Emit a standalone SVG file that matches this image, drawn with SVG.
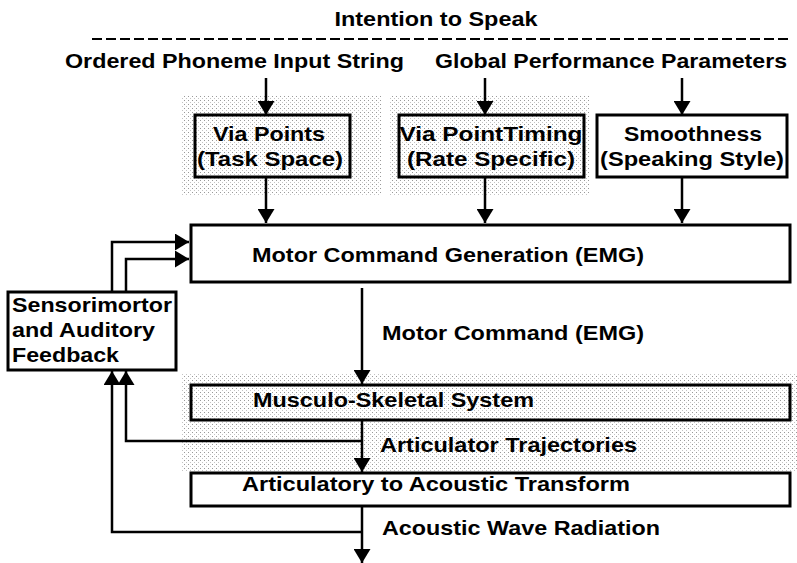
<svg xmlns="http://www.w3.org/2000/svg" width="797" height="563" viewBox="0 0 797 563">
<defs>
<style>
text{font-family:"Liberation Sans",Arial,Helvetica,sans-serif;font-weight:bold;font-size:21px;fill:#000}
.box{fill:#fff;stroke:#000;stroke-width:3}
.tex{fill:url(#dots)}
.ln{fill:none;stroke:#000;stroke-width:2.5}
.mid{text-anchor:middle}
</style>
<marker id="ah" viewBox="0 0 14 17" refX="14" refY="8.5" markerWidth="14" markerHeight="17" markerUnits="userSpaceOnUse" orient="auto">
<path d="M0,0 L14,8.5 L0,17 Z" fill="#000"/>
</marker>
<pattern id="dots" width="4" height="4" patternUnits="userSpaceOnUse">
<rect width="4" height="4" fill="#fff"/>
<rect width="1" height="1" fill="#999"/>
<rect x="2" y="2" width="1" height="1" fill="#c4c4c4"/>
</pattern>
</defs>
<rect width="797" height="563" fill="#fff"/>
<g id="texture">
<rect x="182" y="96" width="200" height="100" fill="url(#dots)"/>
<rect x="390" y="96" width="200" height="100" fill="url(#dots)"/>
<rect x="182" y="373" width="615" height="98" fill="url(#dots)"/>
</g>
<g id="header">
<text x="436" y="26" class="mid" textLength="203" lengthAdjust="spacingAndGlyphs">Intention to Speak</text>
<line x1="92" y1="39" x2="790" y2="39" stroke="#000" stroke-width="2" stroke-dasharray="10 4"/>
<text x="65" y="68" textLength="339" lengthAdjust="spacingAndGlyphs">Ordered Phoneme Input String</text>
<text x="435" y="68" textLength="352" lengthAdjust="spacingAndGlyphs">Global Performance Parameters</text>
</g>
<g id="connectors">
<line class="ln" x1="266" y1="78" x2="266" y2="115" marker-end="url(#ah)"/>
<line class="ln" x1="485" y1="78" x2="485" y2="115" marker-end="url(#ah)"/>
<line class="ln" x1="682" y1="78" x2="682" y2="115" marker-end="url(#ah)"/>
<line class="ln" x1="266" y1="177" x2="266" y2="223" marker-end="url(#ah)"/>
<line class="ln" x1="485" y1="177" x2="485" y2="223" marker-end="url(#ah)"/>
<line class="ln" x1="682" y1="177" x2="682" y2="223" marker-end="url(#ah)"/>
<polyline class="ln" points="112,292 112,242 189,242" marker-end="url(#ah)"/>
<polyline class="ln" points="126,292 126,259 189,259" marker-end="url(#ah)"/>
<line class="ln" x1="362" y1="288" x2="362" y2="384" marker-end="url(#ah)"/>
<line class="ln" x1="362" y1="421" x2="362" y2="472" marker-end="url(#ah)"/>
<line class="ln" x1="362" y1="506" x2="362" y2="563" marker-end="url(#ah)"/>
<polyline class="ln" points="362,441 126,441 126,371" marker-end="url(#ah)"/>
<polyline class="ln" points="362,532 112,532 112,371" marker-end="url(#ah)"/>
</g>
<g id="via-points">
<rect class="box tex" x="195" y="115" width="155" height="62"/>
<text x="269" y="141" class="mid" textLength="112" lengthAdjust="spacingAndGlyphs">Via Points</text>
<text x="270" y="166" class="mid" textLength="146" lengthAdjust="spacingAndGlyphs">(Task Space)</text>
</g>
<g id="via-point-timing">
<rect class="box tex" x="399" y="115" width="185" height="62"/>
<text x="491" y="141" class="mid" textLength="183" lengthAdjust="spacingAndGlyphs">Via PointTiming</text>
<text x="491" y="166" class="mid" textLength="168" lengthAdjust="spacingAndGlyphs">(Rate Specific)</text>
</g>
<g id="smoothness">
<rect class="box" x="597" y="115" width="190" height="62"/>
<text x="693" y="141" class="mid" textLength="138" lengthAdjust="spacingAndGlyphs">Smoothness</text>
<text x="692" y="166" class="mid" textLength="184" lengthAdjust="spacingAndGlyphs">(Speaking Style)</text>
</g>
<g id="motor-command-generation">
<rect class="box" x="191" y="225" width="599" height="57"/>
<text x="252" y="262" textLength="392" lengthAdjust="spacingAndGlyphs">Motor Command Generation (EMG)</text>
</g>
<g id="feedback">
<rect class="box" x="8" y="292" width="168" height="78"/>
<text x="12" y="312" textLength="160" lengthAdjust="spacingAndGlyphs">Sensorimortor</text>
<text x="12" y="337" textLength="143" lengthAdjust="spacingAndGlyphs">and Auditory</text>
<text x="12" y="362" textLength="107" lengthAdjust="spacingAndGlyphs">Feedback</text>
</g>
<g id="labels">
<text x="382" y="340" textLength="262" lengthAdjust="spacingAndGlyphs">Motor Command (EMG)</text>
<text x="380" y="452" textLength="257" lengthAdjust="spacingAndGlyphs">Articulator Trajectories</text>
<text x="382" y="535" textLength="278" lengthAdjust="spacingAndGlyphs">Acoustic Wave Radiation</text>
</g>
<g id="musculo-skeletal">
<rect class="box tex" x="191" y="385" width="599" height="35"/>
<text x="253" y="407" textLength="281" lengthAdjust="spacingAndGlyphs">Musculo-Skeletal System</text>
</g>
<g id="articulatory-acoustic">
<rect class="box" x="191" y="473" width="599" height="33"/>
<text x="242" y="491" textLength="388" lengthAdjust="spacingAndGlyphs">Articulatory to Acoustic Transform</text>
</g>
</svg>
